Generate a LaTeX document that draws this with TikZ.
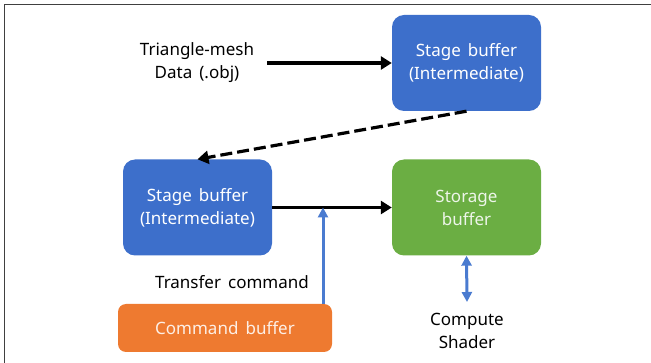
\documentclass[tikz,border=0pt]{standalone}
\usepackage{fontspec}
\setmainfont{Noto Sans}[WordSpace=1.6]
\usetikzlibrary{arrows.meta}

\begin{document}
\begin{tikzpicture}[x=1pt,y=-1pt,every node/.style={align=center,font=\fontsize{17}{23}\selectfont},
	buffer/.style={rounded corners=12pt,minimum width=149pt,minimum height=96pt,text=white},
	blue buffer/.style={buffer,fill=stageblue},
	green buffer/.style={buffer,fill=storagegreen,text=white!88!storagegreen},
	arr/.style={line width=3.2pt,-{Triangle[length=11pt,width=13pt]}},
	bluearr/.style={line width=3pt,draw=arrowblue,-{Triangle[length=10pt,width=10pt]}}]
	\definecolor{stageblue}{HTML}{3D6FCB}
	\definecolor{storagegreen}{HTML}{6BAE43}
	\definecolor{cmdorange}{HTML}{EE7A30}
	\definecolor{arrowblue}{HTML}{4A7BD0}
	\useasboundingbox (0,0) rectangle (651,363);
	\draw[line width=1.5pt,draw=black!75] (4.5,363) -- (4.5,4.5) -- (651,4.5);
	\node (mesh) at (197,63) {Triangle-mesh \\ Data (.obj)};
	\node [blue buffer] (top) at (466.5,63) {Stage buffer \\ (Intermediate)};
	\node [blue buffer] (left) at (197.5,207.5) {Stage buffer \\ (Intermediate)};
	\node [green buffer] (storage) at (466.5,207.5) {Storage \\ buffer};
	\node [rounded corners=8pt,fill=cmdorange,text=white!88!cmdorange,minimum width=214pt,minimum height=48pt] (cmd) at (225,328) {Command buffer};
	\node (transfer) at (232,282) {Transfer command};
	\node (shader) at (467,331) {Compute \\ Shader};
	\coordinate (join) at (323,207.5);
	\draw[arr] (267,63) -- (top.west);
	\draw[arr,dashed,dash pattern=on 12pt off 5pt] (top.south) -- (left.north);
	\draw[arr] (left.east) -- (storage.west);
	\draw[bluearr] (cmd.north -| join) -- (join);
	\draw[bluearr,{Triangle[length=10pt,width=10pt]}-{Triangle[length=10pt,width=10pt]}] (storage.south) -- (467,302);
\end{tikzpicture}
\end{document}
